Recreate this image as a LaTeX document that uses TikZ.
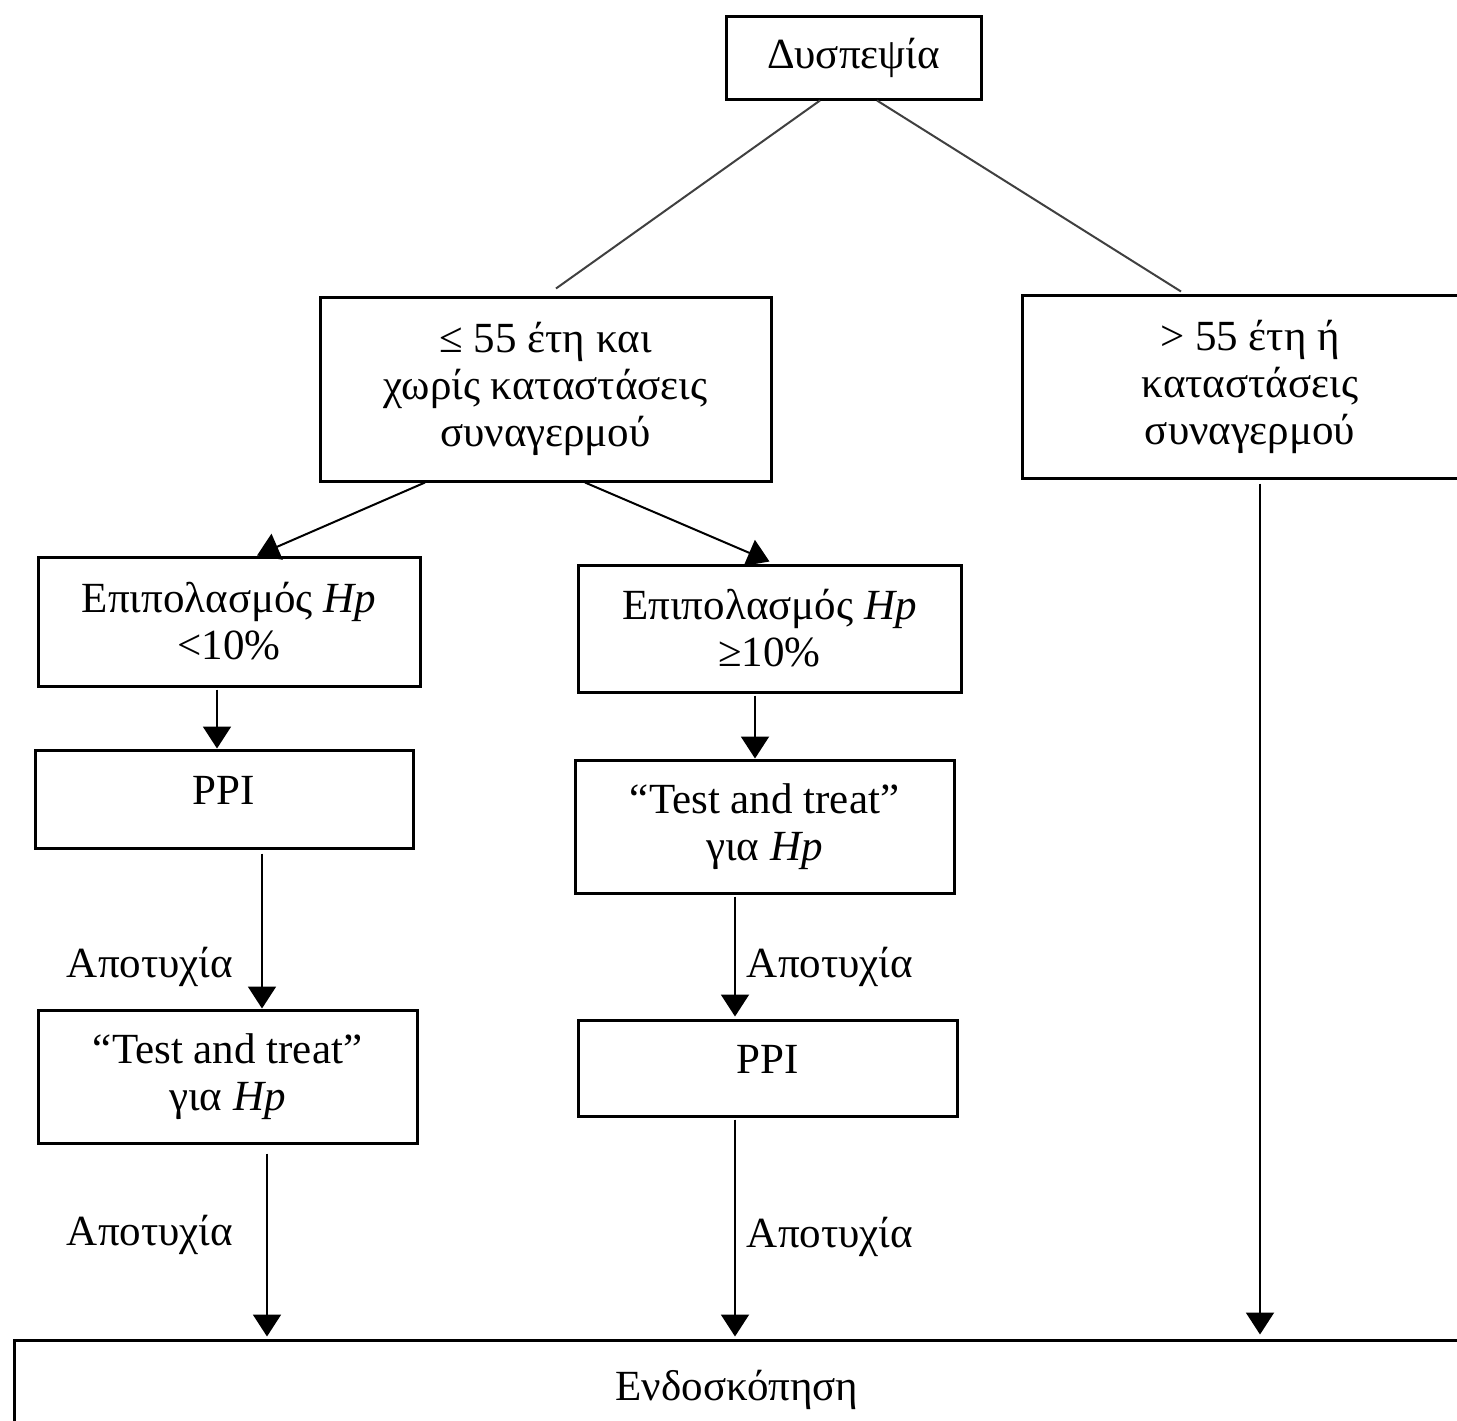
\documentclass[tikz,border=0pt]{standalone}
\usepackage{fontspec}
\setmainfont{Liberation Serif}
\usetikzlibrary{arrows.meta,calc}
\begin{document}
\begin{tikzpicture}[x=0.5pt,y=-0.5pt,
  box/.style={draw,line width=1.5pt,align=center,inner sep=0pt,font=\fontsize{21.5}{23.5}\selectfont},
  conn/.style={line width=1pt,black!75},
  arr/.style={line width=1pt,-{Triangle[length=11pt,width=14pt]}},
  lbl/.style={font=\fontsize{21.5}{23.5}\selectfont,inner sep=0pt}]
\useasboundingbox (0,0) rectangle (1457,1420);
\clip (0,0) rectangle (1457,1420);
\node[box,minimum width=127.5pt,minimum height=41.5pt] (top) at (853.5,57.5) {Δυσπεψία};
\node[box,minimum width=225.5pt,minimum height=92pt] (b2) at (545.5,389) {≤ 55 έτη και\\χωρίς καταστάσεις\\συναγερμού};
\node[box,minimum width=228pt,minimum height=91.5pt] (rt) at (1250,386.5) {> 55 έτη ή\\καταστάσεις\\συναγερμού};
\node[box,minimum width=191pt,minimum height=64.5pt] (epL) at (229,621.5) {Επιπολασμός \textit{Hp}\\<10\%};
\node[box,minimum width=191.5pt,minimum height=63.5pt] (epR) at (769.5,628.5) {Επιπολασμός \textit{Hp}\\≥10\%};
\node[box,minimum width=189pt,minimum height=49pt,text depth=9pt] (ppiL) at (224,799) {PPI};
\node[box,minimum width=189.5pt,minimum height=66.5pt] (ttR) at (764.5,826.5) {“Test and treat”\\για \textit{Hp}};
\node[box,minimum width=189.5pt,minimum height=66.5pt] (ttL) at (227.5,1076.5) {“Test and treat”\\για \textit{Hp}};
\node[box,minimum width=189.5pt,minimum height=48pt,text depth=9pt] (ppiR) at (767.5,1068) {PPI};
\node[box,minimum width=723pt,minimum height=50pt] (bot) at (737,1390) {Ενδοσκόπηση};

\draw[conn] ($(top.south)+(-33.5,0)$) -- ($(b2.north)+(10.5,-7)$);
\draw[conn] ($(top.south)+(23.5,0)$) -- ($(rt.north)+(-69,-2)$);
\draw[arr] ($(b2.south)+(-120.5,0)$) -- ($(epL.north)+(28,0)$);
\draw[arr] ($(b2.south)+(39.5,0)$) -- ($(epR.north)+(0,-2)$);
\draw[arr] ($(epL.south)+(-12,2)$) -- ($(ppiL.north)+(-7,0)$);
\draw[arr] ($(epR.south)+(-14.5,2)$) -- ($(ttR.north)+(-9.5,0)$);
\draw[arr] ($(ppiL.south)+(38,4)$) -- ($(ttL.north)+(34.5,0)$);
\draw[arr] ($(ttR.south)+(-29.5,2)$) -- ($(ppiR.north)+(-32.5,-2)$);
\draw[arr] ($(ttL.south)+(39.5,9)$) -- ($(bot.north)+(-470,-2)$);
\draw[arr] ($(ppiR.south)+(-32.5,2)$) -- ($(bot.north)+(-2,-2)$);
\draw[arr] ($(rt.south)+(10,4)$) -- ($(bot.north)+(523,-4)$);

\node[lbl] (f1) at (150,967) {Αποτυχία};
\node[lbl] (f2) at (830,967) {Αποτυχία};
\node[lbl] (f3) at (150,1235) {Αποτυχία};
\node[lbl] (f4) at (830,1237) {Αποτυχία};
\end{tikzpicture}
\end{document}
